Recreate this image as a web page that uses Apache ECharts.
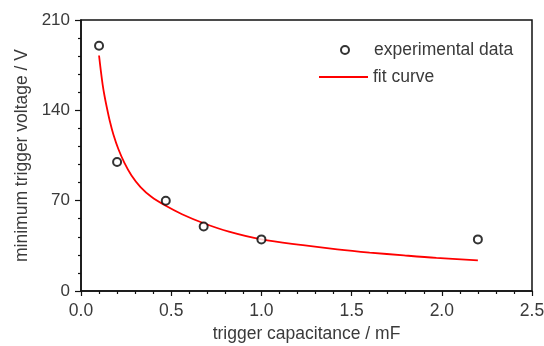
<!DOCTYPE html>
<html>
<head>
<meta charset="utf-8">
<script src="https://cdn.jsdelivr.net/npm/echarts@6/dist/echarts.min.js"></script>
<style>
html,body{margin:0;padding:0;background:#fff;}
#c{width:544px;height:346px;}
</style>
</head>
<body>
<div id="c"></div>
<script>
// experimental data
var pointX = [0.1, 0.2, 0.47, 0.68, 1.0, 2.2];
var pointY = [190, 100, 70, 50, 40, 40];
// fit curve
var curveX = [0.1, 0.11, 0.12, 0.13, 0.142, 0.16, 0.18, 0.207, 0.24, 0.28, 0.33, 0.39, 0.47, 0.56, 0.68, 0.82, 1.0, 1.23, 1.42, 1.6, 1.79, 1.97, 2.2];
var curveY = [182.5, 170.5, 160, 151.5, 143, 131.5, 121, 110, 99.5, 89.5, 80.5, 73, 66, 59.5, 52.5, 46, 40, 35.5, 32.3, 29.8, 27.6, 25.7, 23.8];
var xTicks = [0, 0.5, 1.0, 1.5, 2.0, 2.5];
var yTicks = [0, 70, 140, 210];
var seriesNames = ['experimental data', 'fit curve'];
var xTitle = 'trigger capacitance / mF';
var yTitle = 'minimum trigger voltage / V';

var FONT = '"Liberation Sans", Arial, sans-serif';
var TXT = '#3a3a3a';

var chart = echarts.init(document.getElementById('c'), null, {renderer: 'canvas'});
chart.setOption({
  animation: false,
  backgroundColor: '#fff',
  grid: {left: 81, right: 12, top: 20, bottom: 55, containLabel: false, outerBoundsMode: 'none',
         show: true, borderColor: '#111', borderWidth: 1.5, backgroundColor: 'transparent'},
  legend: [{
    data: [{name: seriesNames[0], icon: 'circle'}],
    left: 335, top: 36, itemWidth: 8, itemHeight: 8, itemGap: 0,
    textStyle: {fontFamily: FONT, fontSize: 17.5, color: TXT, lineHeight: 18, padding: [0, 0, 0, 20]}
  }, {
    data: [{name: seriesNames[1], icon: 'rect'}],
    left: 314, top: 63, itemWidth: 49, itemHeight: 2, itemGap: 0,
    textStyle: {fontFamily: FONT, fontSize: 17.5, color: TXT, lineHeight: 18}
  }],
  xAxis: {
    type: 'value', min: xTicks[0], max: xTicks[xTicks.length - 1], interval: 0.5,
    name: xTitle, nameLocation: 'middle', nameGap: 31,
    nameTextStyle: {fontFamily: FONT, fontSize: 17.5, color: TXT},
    axisLine: {show: true, lineStyle: {color: '#111', width: 1.5}},
    axisTick: {show: true, inside: false, length: 5, lineStyle: {color: '#111', width: 1.2}},
    minorTick: {show: true, splitNumber: 5, length: 3, lineStyle: {color: '#111', width: 1.2}},
    splitLine: {show: false},
    axisLabel: {fontFamily: FONT, fontSize: 17.5, color: TXT, margin: 11, formatter: function (v) { return v.toFixed(1); }}
  },
  yAxis: {
    type: 'value', min: yTicks[0], max: yTicks[yTicks.length - 1], interval: 70,
    name: yTitle, nameLocation: 'middle', nameGap: 50,
    nameTextStyle: {fontFamily: FONT, fontSize: 17.5, color: TXT},
    axisLine: {show: true, lineStyle: {color: '#111', width: 1.5}},
    axisTick: {show: true, inside: false, length: 6, lineStyle: {color: '#111', width: 1.2}},
    minorTick: {show: true, splitNumber: 5, length: 3, lineStyle: {color: '#111', width: 1.2}},
    splitLine: {show: false},
    axisLabel: {fontFamily: FONT, fontSize: 17, color: TXT, margin: 11}
  },
  series: [{
    name: seriesNames[0],
    type: 'scatter',
    symbol: 'circle',
    symbolSize: 8,
    itemStyle: {color: '#fff', borderColor: '#000', borderWidth: 2},
    data: pointX.map(function (x, i) { return [x, pointY[i]]; }),
    z: 3
  }, {
    name: seriesNames[1],
    type: 'line',
    symbol: 'none',
    smooth: 0.35,
    lineStyle: {color: '#ff0000', width: 1.8},
    itemStyle: {color: '#ff0000'},
    data: curveX.map(function (x, i) { return [x, curveY[i]]; }),
    z: 2
  }]
});
</script>
</body>
</html>
